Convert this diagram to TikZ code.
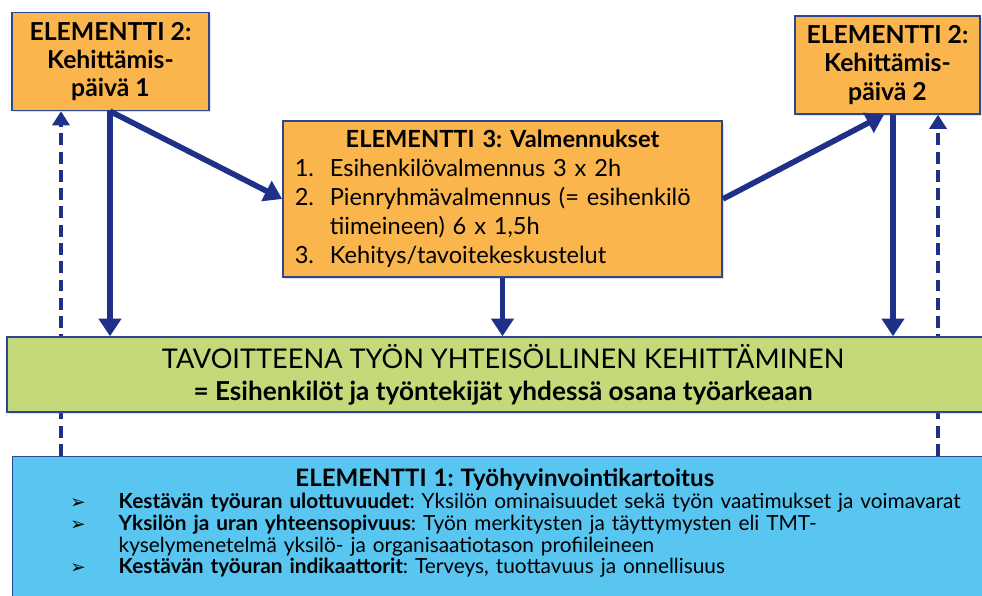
\documentclass[tikz,border=0pt]{standalone}
\usepackage{fontspec}
\setmainfont{Lato}
\newfontfamily\bulletfont{DejaVu Sans}
\usepackage{tikz}
\usetikzlibrary{arrows.meta, shadows}
\definecolor{boxorange}{RGB}{250,182,76}
\definecolor{goalgreen}{RGB}{196,217,122}
\definecolor{surveyblue}{RGB}{88,198,240}
\definecolor{edgeblue}{RGB}{45,70,145}
\definecolor{arrownavy}{RGB}{30,48,135}
\frenchspacing

\newcommand{\numline}[2]{\par\hspace*{8.5pt}\makebox[24.9pt][l]{#1}#2}
\newcommand{\bulline}[2]{\par\hspace*{41pt}\makebox[34.4pt][l]{\bulletfont\fontsize{13}{13}\selectfont ➢}\textbf{#1}: #2}

\begin{document}
\begin{tikzpicture}[x=0.025cm, y=-0.025cm,
    element/.style={rectangle, draw=edgeblue, line width=1pt, fill=boxorange, align=center, inner sep=0pt, font=\bfseries\fontsize{17.6}{20}\selectfont, drop shadow={opacity=0.25, shadow xshift=1.2pt, shadow yshift=-1.2pt}},
    wide/.style={rectangle, draw=edgeblue, line width=1pt, inner sep=0pt, drop shadow={opacity=0.25, shadow xshift=1.2pt, shadow yshift=-1.2pt}},
    arrow/.style={draw=arrownavy, line width=4pt, -{Triangle[width=15.5pt,length=12.5pt]}},
    dasharrow/.style={draw=arrownavy, line width=3pt, dash pattern=on 8.5pt off 4.5pt, -{Triangle[width=12pt,length=10pt]}}
]
\useasboundingbox (0,0) rectangle (982,596);

\node[element, minimum width=4.93cm, minimum height=2.45cm] (dayone) at (110.5,61.5) {ELEMENTTI 2:\\Kehittämis-\\päivä 1};
\node[element, minimum width=4.63cm, minimum height=2.45cm] (daytwo) at (887.5,65) {ELEMENTTI 2:\\Kehittämis-\\päivä 2};
\node[element, minimum width=10.98cm, minimum height=3.9cm, text width=10.98cm, align=left, font=\fontsize{16.8}{20.6}\selectfont] (coach) at (502.5,199) {%
  {\centering\textbf{ELEMENTTI 3: Valmennukset}\par}
  \numline{1.}{Esihenkilövalmennus 3 x 2h}
  \numline{2.}{Pienryhmävalmennus (= esihenkilö}\newline\hspace*{33.4pt}tiimeineen) 6 x 1,5h
  \numline{3.}{Kehitys/tavoitekeskustelut}};
\node[wide, fill=surveyblue, anchor=north west, text width=24.6cm, align=left, inner ysep=8.3pt, font=\fontsize{14.8}{15.6}\selectfont] (survey) at (12,456) {%
  {\centering\fontsize{17.1}{16.8}\selectfont\textbf{ELEMENTTI 1: Työhyvinvointikartoitus}\par}
  \bulline{Kestävän työuran ulottuvuudet}{Yksilön ominaisuudet sekä työn vaatimukset ja voimavarat}
  \bulline{Yksilön ja uran yhteensopivuus}{Työn merkitysten ja täyttymysten eli TMT-}\newline\hspace*{75.4pt}kyselymenetelmä yksilö- ja organisaatiotason profiileineen
  \bulline{Kestävän työuran indikaattorit}{Terveys, tuottavuus ja onnellisuus}\par\rule{0pt}{40pt}};

\coordinate (c1) at (61,0);
\coordinate (c2) at (110,0);
\coordinate (c4a) at (884,0);
\coordinate (c4) at (893,0);
\coordinate (c5) at (938,0);

\draw[dasharrow] (survey.north -| c1) -- (dayone.south -| c1);
\draw[dasharrow] (survey.north -| c5) -- (daytwo.south -| c5);

\node[wide, fill=goalgreen, minimum width=24.8cm, minimum height=1.875cm, align=center, font=\fontsize{19.3}{22.8}\selectfont] (goal) at (503,374.5) {TAVOITTEENA TYÖN YHTEISÖLLINEN KEHITTÄMINEN\\{\fontsize{18.6}{22.8}\selectfont\bfseries = Esihenkilöt ja työntekijät yhdessä osana työarkeaan}};

\draw[arrow] (dayone.south -| c2) -- (goal.north -| c2);
\draw[arrow] (dayone.south -| c2) -- (coach.west);
\draw[arrow] (coach.south) -- (goal.north -| coach.south);
\draw[arrow] (coach.east) -- (daytwo.south -| c4a);
\draw[arrow] (daytwo.south -| c4) -- (goal.north -| c4);
\end{tikzpicture}
\end{document}
